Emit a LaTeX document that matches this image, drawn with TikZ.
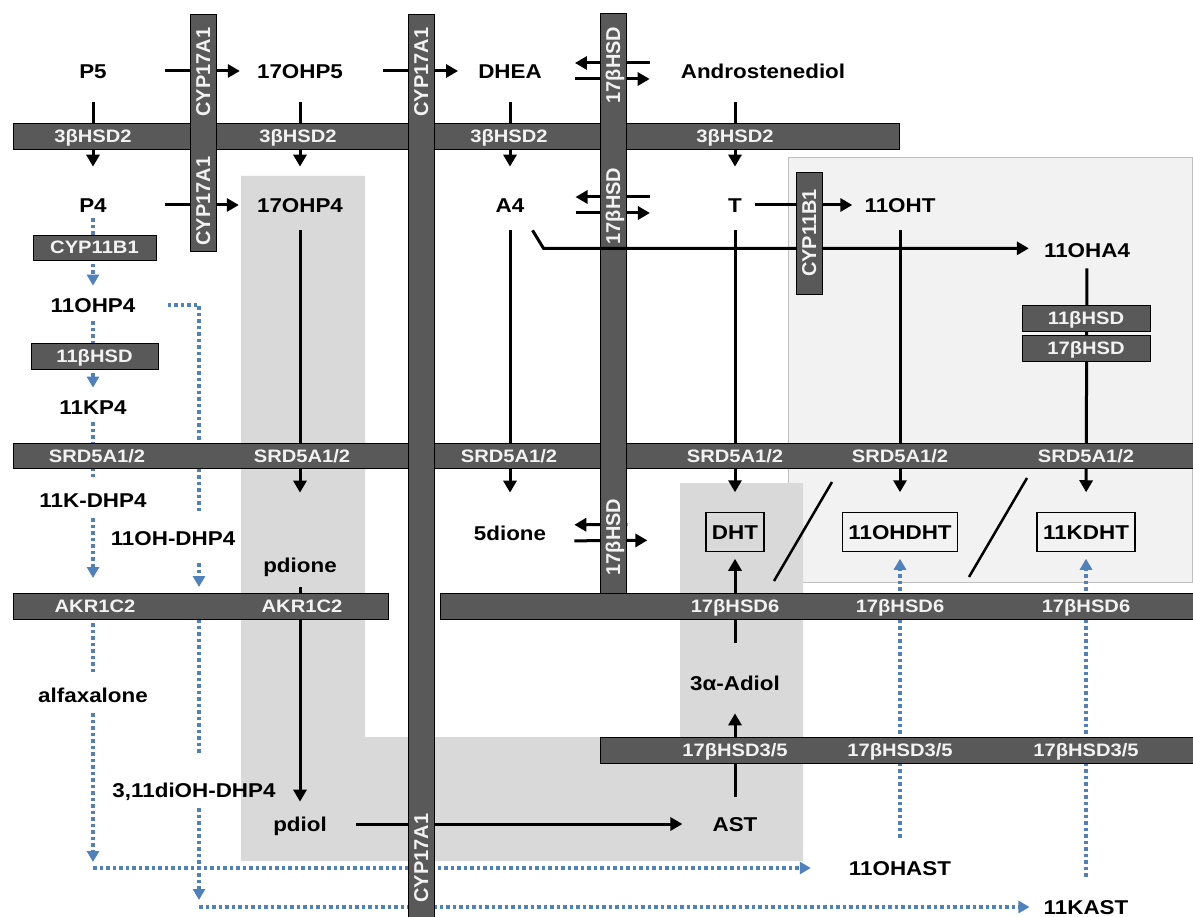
\documentclass[tikz,border=0pt]{standalone}
\usepackage{fontspec}
\setmainfont{Liberation Sans}
\newfontfamily\widefont[FakeStretch=1.12]{Liberation Sans}
\usetikzlibrary{arrows.meta,positioning}

\definecolor{barfill}{HTML}{595959}
\definecolor{bartext}{HTML}{F2F2F2}
\definecolor{pathgray}{HTML}{D9D9D9}
\definecolor{boxgray}{HTML}{F2F2F2}
\definecolor{boxline}{HTML}{BFBFBF}
\definecolor{altblue}{RGB}{79,129,189}

\tikzset{
  met/.style={font=\widefont\bfseries\fontsize{20}{22}\selectfont, inner sep=0pt, text height=14.3pt, text depth=0pt},
  hit/.style={met, draw, line width=1.2pt, inner xsep=6pt, inner ysep=12pt},
  enz/.style={draw=black, line width=0.8pt, fill=barfill, inner sep=0pt, text=bartext,
    text height=12.9pt, text depth=0pt, font=\widefont\bfseries\fontsize{18}{20}\selectfont},
  hbar/.style={enz, minimum height=26pt},
  vbar/.style={enz, minimum width=26pt},
  elbl/.style={text=bartext, font=\widefont\bfseries\fontsize{18}{20}\selectfont, inner sep=0pt,
    text height=12.9pt, text depth=0pt},
  vlbl/.style={text=bartext, font=\bfseries\fontsize{20}{22}\selectfont, inner sep=0pt,
    text height=14.3pt, text depth=0pt, rotate=90},
  rxn/.style={line width=3pt, -{Triangle[width=13pt,length=12pt]}},
  alt/.style={draw=altblue, line width=3.5pt, dash pattern=on 3.5pt off 3pt},
  altarr/.style={alt, -{Triangle[width=12pt,length=11pt,fill=altblue]}},
}

\begin{document}
\begin{tikzpicture}[x=1pt, y=-1pt]
\useasboundingbox (0,0) rectangle (1193,917);

% shaded areas
\draw[fill=boxgray, draw=boxline, line width=1pt] (788,158) rectangle (1192,582);
\fill[pathgray] (241,176) -- (365,176) -- (365,737) -- (680,737) -- (680,483)
  -- (803,483) -- (803,861) -- (241,861) -- cycle;

% steroids
\node[met] (p5) at (93,71) {P5};
\node[met] (p17oh5) at (300,71) {17OHP5};
\node[met] (dhea) at (510,71) {DHEA};
\node[met] (adiol) at (763,71) {Androstenediol};
\node[met] (p4) at (93,205) {P4};
\node[met] (p17oh4) at (300,205) {17OHP4};
\node[met] (a4) at (510,205) {A4};
\node[met] (t) at (735,205) {T};
\node[met] (t11oh) at (900,205) {11OHT};
\node[met] (a4oh) at (1087,250) {11OHA4};
\node[met] (p11oh) at (93,305) {11OHP4};
\node[met] (p11k) at (93,407) {11KP4};
\node[met] (kdhp) at (93,500) {11K-DHP4};
\node[met] (ohdhp) at (173,538) {11OH-DHP4};
\node[met] (pdione) at (300,565) {pdione};
\node[met] (dione5) at (510,533) {5dione};
\node[hit] (dht) at (735,532) {DHT};
\node[hit] (dhtoh) at (900,532) {11OHDHT};
\node[hit] (dhtk) at (1086,532) {11KDHT};
\node[met] (adiol3a) at (735,683) {3α-Adiol};
\node[met] (alfax) at (93,695) {alfaxalone};
\node[met] (diohdhp) at (194,790) {3,11diOH-DHP4};
\node[met] (pdiol) at (300,824) {pdiol};
\node[met] (ast) at (735,824) {AST};
\node[met] (astoh) at (900,868) {11OHAST};
\node[met] (astk) at (1086,907) {11KAST};
\coordinate (c11) at (199,305);
\coordinate (a4start) at ([shift={(8,18)}]a4.south east);
\coordinate (a4bend) at ([shift={(19,36)}]a4.south east);
\coordinate (a4end) at ([xshift=-15pt]a4oh.west |- a4bend);

% classic and backdoor reactions
\draw[rxn, shorten <=58pt, shorten >=17pt] (p5) -- (p17oh5);
\draw[rxn, shorten <=40pt, shorten >=20pt] (p17oh5) -- (dhea);
\draw[rxn, shorten <=31pt, shorten >=33pt] ([yshift=8pt]adiol.west) -- ([yshift=8pt]dhea.east);
\draw[rxn, shorten <=33pt, shorten >=31pt] ([yshift=-8pt]dhea.east) -- ([yshift=-8pt]adiol.west);
\draw[rxn, shorten <=58pt, shorten >=18pt] (p4) -- (p17oh4);
\draw[rxn, shorten <=78pt, shorten >=51pt] ([yshift=8pt]t.west) -- ([yshift=8pt]a4.east);
\draw[rxn, shorten <=51pt, shorten >=78pt] ([yshift=-8pt]a4.east) -- ([yshift=-8pt]t.west);
\draw[rxn, shorten <=78pt, shorten >=28pt] ([yshift=8pt]dht.west) -- ([yshift=8pt]dione5.east);
\draw[rxn, shorten <=28pt, shorten >=58pt] ([yshift=-8pt]dione5.east) -- ([yshift=-8pt]dht.west);
\draw[rxn, shorten <=13pt, shorten >=12pt] (t) -- (t11oh);
\draw[rxn, shorten <=24pt, shorten >=31pt] (p5) -- (p4);
\draw[rxn, shorten <=24pt, shorten >=31pt] (p17oh5) -- (p17oh4);
\draw[rxn, shorten <=24pt, shorten >=31pt] (dhea) -- (a4);
\draw[rxn, shorten <=24pt, shorten >=31pt] (t |- adiol.south) -- (t);
\draw[rxn, shorten <=18pt, shorten >=65pt] (p17oh4) -- (pdione);
\draw[rxn, shorten <=18pt, shorten >=33pt] (a4) -- (dione5);
\draw[rxn, shorten <=18pt, shorten >=20pt] (t) -- (dht);
\draw[rxn, shorten <=18pt, shorten >=20pt] (t11oh) -- (dhtoh);
\draw[rxn, shorten <=11pt, shorten >=20pt] (a4oh) -- (dhtk);
\draw[rxn, shorten <=15pt, shorten >=15pt] (pdione) -- (pdiol);
\draw[rxn, shorten <=29pt, shorten >=30pt] (pdiol) -- (ast);
\draw[rxn, shorten <=20pt, shorten >=23pt] (ast) -- (adiol3a);
\draw[rxn, shorten <=33pt, shorten >=7pt] (adiol3a) -- (dht);
\draw[line width=2.5pt] (774,581) -- (832,482);
\draw[line width=2.5pt] (969,577) -- (1027,478);

% C11-oxy pregnanes
\draw[altarr, shorten <=6pt, shorten >=12pt] (p4) -- (p11oh);
\draw[altarr, shorten <=9pt, shorten >=12pt] (p11oh) -- (p11k);
\draw[alt, shorten <=8pt, shorten >=16pt] (p11k) -- (kdhp);
\draw[altarr, shorten <=11pt, shorten >=15pt] (kdhp) -- (kdhp |- 0,593);
\draw[alt, shorten <=4pt, shorten >=16pt] (kdhp |- 0,619) -- (alfax);
\draw[altarr, shorten <=11pt, shorten >=6pt] (alfax) -- (alfax |- astoh);
\draw[altarr, shorten >=38pt] (alfax |- astoh) -- (astoh);
\draw[alt, shorten <=32pt, shorten >=19pt] (p11oh.east) -| (c11 |- ohdhp.north);
\draw[altarr, shorten <=18pt, shorten >=6pt] (c11 |- ohdhp.south) -- (c11 |- 0,593);
\draw[alt, shorten >=28pt] (c11 |- 0,619) -- (c11 |- diohdhp.north);
\draw[altarr, shorten <=11pt, shorten >=7pt] (c11 |- diohdhp.south) -- (c11 |- astk);
\draw[altarr, shorten >=14pt] (c11 |- astk) -- (astk);
\draw[altarr, shorten <=23pt, shorten >=7pt] (astoh) -- (dhtoh);
\draw[altarr, shorten <=23pt, shorten >=7pt] (astk) -- (dhtk);

% enzyme bars
\node[hbar, minimum width=886pt] (hsd3) at (456,136) {};
\node[hbar, minimum width=1181pt, minimum height=25pt] (srd) at (603.5,455.5) {};
\node[hbar, minimum width=375pt] (akr) at (200.5,606) {};
\node[hbar, minimum width=754pt] (hsd6) at (817,606) {};
\node[hbar, minimum width=594pt] (hsd35) at (897,750) {};
\node[hbar, minimum width=123pt, minimum height=25pt] (cypl) at (94.5,247.5) {CYP11B1};
\node[hbar, minimum width=127pt] (hsdl) at (94.5,356) {11βHSD};
\node[hbar, minimum width=128pt] (hsd11r) at (1086,318) {11βHSD};
\node[hbar, minimum width=128pt] (hsd17r) at (1086,348) {17βHSD};
\node[vbar, minimum height=237pt] (cyp17a) at (203,132.5) {};
\node[vbar, minimum height=904pt] (cyp17b) at (421,466) {};
\node[vbar, minimum height=580pt] (hsd17v) at (613,303) {};

\foreach \x [count=\i] in {93,298,509,735}
  \node[elbl] (hsdlbl\i) at (\x,136) {3βHSD2};
\foreach \x [count=\i] in {97,302,509,735,900,1086}
  \node[elbl] (srdlbl\i) at (\x,456) {SRD5A1/2};
\foreach \x [count=\i] in {95,302}
  \node[elbl] (akrlbl\i) at (\x,606) {AKR1C2};
\foreach \x [count=\i] in {735,900,1086}
  \node[elbl] (hsdsixlbl\i) at (\x,606) {17βHSD6};
\foreach \x [count=\i] in {735,900,1086}
  \node[elbl] (hsdtflbl\i) at (\x,750) {17βHSD3/5};
\node[vlbl] (cyplbl1) at (203,72) {CYP17A1};
\node[vlbl] (cyplbl2) at (203,201) {CYP17A1};
\node[vlbl] (cyplbl3) at (421,72) {CYP17A1};
\node[vlbl] (cyplbl4) at (421,858) {CYP17A1};
\foreach \y [count=\i] in {65,206,537}
  \node[vlbl] (hsdvlbl\i) at (613,\y) {17βHSD};

% A4 to 11OHA4 over the 17bHSD bar
\draw[rxn] (a4start) -- (a4bend) -- (a4end);
\node[enz, rotate=90, minimum width=122pt, minimum height=26pt, text height=14.3pt,
  font=\bfseries\fontsize{20}{22}\selectfont] (cypr) at (809,233) {CYP11B1};

\end{tikzpicture}
\end{document}
